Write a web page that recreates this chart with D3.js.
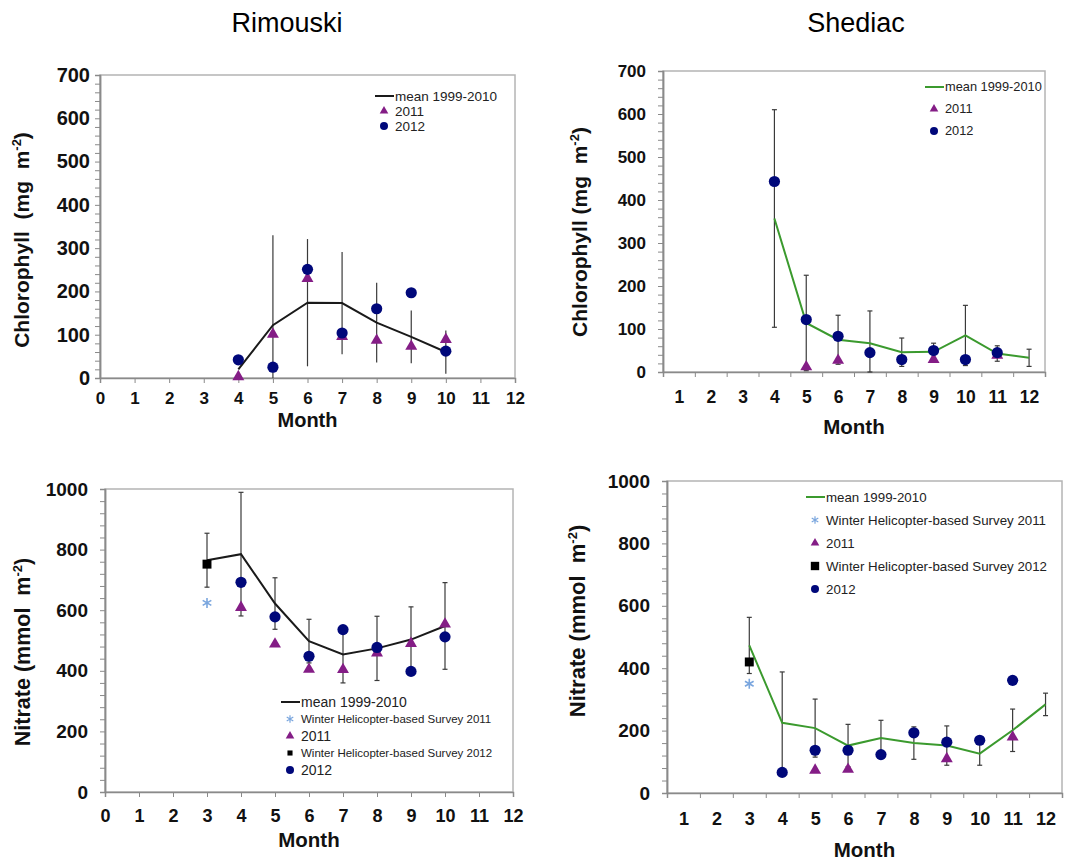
<!DOCTYPE html>
<html>
<head>
<meta charset="utf-8">
<script src="https://cdn.jsdelivr.net/npm/d3@7"></script>
<style>
  body { margin: 0; background: #fff; }
  text { font-family: "Liberation Sans", Arial, sans-serif; }
</style>
</head>
<body>
<svg id="chart" width="1077" height="863"></svg>
<script>
// ---- data ----
var siteNames = ["Rimouski", "Shediac"];
var monthTicksRim = [0, 1, 2, 3, 4, 5, 6, 7, 8, 9, 10, 11, 12];
var monthTicksShd = [1, 2, 3, 4, 5, 6, 7, 8, 9, 10, 11, 12];

// Rimouski chlorophyll (mg m-2)
var rimChlMonths = [4, 5, 6, 7, 8, 9, 10];
var rimChlMean = [20, 122, 174, 173, 128, 95, 60];
var rimChlSd = [0, 208, 147, 118, 92, 61, 50];
var rimChl2011 = [3, 101, 230, 96, 87, 73, 89];
var rimChl2012 = [42, 25, 251, 104, 160, 197, 62];

// Shediac chlorophyll (mg m-2)
var shdChlMonths = [4, 5, 6, 7, 8, 9, 10, 11, 12];
var shdChlMean = [357, 114, 75, 67, 46, 47, 85, 43, 33];
var shdChlSd = [253, 111, 57, 75, 33, 20, 70, 18, 20];
var shdChl2011Months = [5, 6, 9, 11];
var shdChl2011 = [12, 27, 29, 39];
var shdChl2012Months = [4, 5, 6, 7, 8, 9, 10, 11];
var shdChl2012 = [443, 122, 83, 45, 29, 50, 29, 45];

// Rimouski nitrate (mmol m-2)
var rimNitMonths = [3, 4, 5, 6, 7, 8, 9, 10];
var rimNitMean = [765, 785, 622, 498, 454, 474, 503, 548];
var rimNitSd = [89, 204, 85, 72, 94, 106, 108, 143];
var rimNitWinter2011 = [624];
var rimNitWinter2012 = [752];
var rimNitYearMonths = [4, 5, 6, 7, 8, 9, 10];
var rimNit2011 = [609, 488, 405, 404, 459, 490, 554];
var rimNit2012 = [692, 578, 448, 536, 477, 398, 512];

// Shediac nitrate (mmol m-2)
var shdNitMonths = [3, 4, 5, 6, 7, 8, 9, 10, 11, 12];
var shdNitMean = [473, 225, 208, 152, 176, 160, 152, 126, 201, 284];
var shdNitSd = [90, 163, 93, 68, 57, 52, 63, 37, 68, 36];
var shdNitWinter2011 = [350];
var shdNitWinter2012 = [420];
var shdNit2011Months = [5, 6, 9, 11];
var shdNit2011 = [73, 76, 110, 179];
var shdNit2012Months = [4, 5, 6, 7, 8, 9, 10, 11];
var shdNit2012 = [66, 137, 137, 123, 193, 163, 169, 361];

var winterMonth = [3];
var chlLegend = ["mean 1999-2010", "2011", "2012"];
var nitLegend = ["mean 1999-2010", "Winter Helicopter-based Survey 2011", "2011",
                 "Winter Helicopter-based Survey 2012", "2012"];

// ---- drawing ----
var svg = d3.select("#chart");
var purple = "#841d86", navy = "#00087a", green = "#3b9a2e", iceBlue = "#7aa6de";

function zip(xs, ys) { return xs.map(function(m, i) { return [m, ys[i]]; }); }

// titles
svg.append("text").attr("x", 287).attr("y", 32).attr("text-anchor", "middle")
  .style("font-size", "27px").text(siteNames[0]);
svg.append("text").attr("x", 856).attr("y", 32).attr("text-anchor", "middle")
  .style("font-size", "27px").text(siteNames[1]);

function styleAxis(a, fs) {
  a.selectAll(".domain").attr("stroke", "#8a8a8a").attr("stroke-width", 1.5);
  a.selectAll(".tick line").attr("stroke", "#8a8a8a");
  a.selectAll("text").attr("fill", "#111").style("font-size", fs + "px")
    .style("font-weight", "bold").style("font-family", "'Liberation Sans', Arial, sans-serif");
}

function drawPanel(p) {
  var g = svg.append("g");
  var x = d3.scaleLinear().domain(p.xDomain).range([p.left, p.right]);
  var y = d3.scaleLinear().domain([0, p.yMax]).range([p.bottom, p.top]);

  // plot frame
  g.append("rect").attr("x", p.left).attr("y", p.top)
    .attr("width", p.right - p.left).attr("height", p.bottom - p.top)
    .attr("fill", "none").attr("stroke", "#b4b4b4").attr("stroke-width", 1.5);

  // y axis: minor ticks, then major labels
  var yMinor = g.append("g").attr("transform", "translate(" + p.left + ",0)")
    .call(d3.axisLeft(y).tickValues(d3.range(0, p.yMax + 1, p.yMinor)).tickSize(5).tickFormat(""));
  var yMajor = g.append("g").attr("transform", "translate(" + p.left + ",0)")
    .call(d3.axisLeft(y).tickValues(d3.range(0, p.yMax + 1, p.yMajor)).tickSize(0)
      .tickPadding(p.yPad).tickFormat(d3.format("d")));
  styleAxis(yMinor, p.yFont);
  styleAxis(yMajor, p.yFont);

  // x axis
  var xTicks, xLabels;
  if (p.band) {
    xTicks = g.append("g").attr("transform", "translate(0," + p.bottom + ")")
      .call(d3.axisBottom(x).tickValues(d3.range(0.5, 13, 1)).tickSize(5).tickFormat(""));
    xLabels = g.append("g").attr("transform", "translate(0," + p.bottom + ")")
      .call(d3.axisBottom(x).tickValues(p.xTickVals).tickSize(0).tickPadding(p.xPad));
  } else {
    xTicks = g.append("g").attr("transform", "translate(0," + p.bottom + ")")
      .call(d3.axisBottom(x).tickValues(p.xTickVals).tickSize(5).tickPadding(p.xPad - 5));
    xLabels = xTicks;
  }
  styleAxis(xTicks, p.xFont);
  styleAxis(xLabels, p.xFont);
  if (p.band) xLabels.select(".domain").remove();

  // axis titles
  g.append("text").attr("x", (p.left + p.right) / 2).attr("y", p.monthY)
    .attr("text-anchor", "middle").style("font-size", p.monthFont + "px").style("font-weight", "bold")
    .attr("fill", "#111").text("Month");
  var yl = g.append("text").attr("transform", "translate(" + p.yLabelX + "," + p.yLabelY + ") rotate(-90)")
    .attr("text-anchor", "middle").style("font-size", p.yLabelFont + "px").style("font-weight", "bold")
    .style("white-space", "pre").attr("fill", "#111");
  yl.append("tspan").text(p.yLabel);
  yl.append("tspan").attr("dy", -8).style("font-size", "13px").text("-2");
  yl.append("tspan").attr("dy", 8).text(")");

  // error bars
  var eb = g.append("g").attr("stroke", "#3a3a3a").attr("stroke-width", 1.2);
  p.months.forEach(function(m, i) {
    if (!p.sd[i]) return;
    var hi = y(p.mean[i] + p.sd[i]), lo = y(Math.max(0, p.mean[i] - p.sd[i]));
    eb.append("line").attr("x1", x(m)).attr("x2", x(m)).attr("y1", hi).attr("y2", lo);
    if (p.cap) {
      eb.append("line").attr("x1", x(m) - p.cap).attr("x2", x(m) + p.cap).attr("y1", hi).attr("y2", hi);
      eb.append("line").attr("x1", x(m) - p.cap).attr("x2", x(m) + p.cap).attr("y1", lo).attr("y2", lo);
    }
  });

  // mean line
  g.append("path").datum(zip(p.months, p.mean))
    .attr("fill", "none").attr("stroke", p.lineColor).attr("stroke-width", 2)
    .attr("d", d3.line().x(function(d) { return x(d[0]); }).y(function(d) { return y(d[1]); }));

  var tri = d3.symbol().type(d3.symbolTriangle).size(62);
  var sq = d3.symbol().type(d3.symbolSquare).size(80);
  var ast = d3.symbol().type(d3.symbolAsterisk).size(70);

  // winter surveys
  if (p.w11) {
    g.selectAll(null).data(zip(winterMonth, p.w11)).enter().append("path")
      .attr("d", ast).attr("fill", "none").attr("stroke", iceBlue).attr("stroke-width", 1.6)
      .attr("transform", function(d) { return "translate(" + x(d[0]) + "," + y(d[1]) + ")"; });
    g.selectAll(null).data(zip(winterMonth, p.w12)).enter().append("path")
      .attr("d", sq).attr("fill", "#000")
      .attr("transform", function(d) { return "translate(" + x(d[0]) + "," + y(d[1]) + ")"; });
  }
  // 2011 triangles
  g.selectAll(null).data(zip(p.m11, p.v11)).enter().append("path")
    .attr("d", tri).attr("fill", purple)
    .attr("transform", function(d) { return "translate(" + x(d[0]) + "," + y(d[1]) + ")"; });
  // 2012 circles
  g.selectAll(null).data(zip(p.m12, p.v12)).enter().append("circle")
    .attr("r", 5.6).attr("fill", navy)
    .attr("cx", function(d) { return x(d[0]); }).attr("cy", function(d) { return y(d[1]); });

  // legend
  var lg = g.append("g");
  var L = p.legend;
  p.legendNames.forEach(function(name, i) {
    var ly = L.y + i * L.dy;
    var kind = p.legendKinds[i];
    if (kind === "line") {
      lg.append("line").attr("x1", L.x - 2).attr("x2", L.x + 17).attr("y1", ly).attr("y2", ly)
        .attr("stroke", p.lineColor).attr("stroke-width", 2);
    } else if (kind === "circ") {
      lg.append("circle").attr("cx", L.x + 7).attr("cy", ly).attr("r", 4).attr("fill", navy);
    } else {
      var s = kind === "tri" ? d3.symbol().type(d3.symbolTriangle).size(32)
            : kind === "sq" ? d3.symbol().type(d3.symbolSquare).size(L.sqSize)
            : d3.symbol().type(d3.symbolAsterisk).size(40);
      lg.append("path").attr("d", s).attr("transform", "translate(" + (L.x + 7) + "," + ly + ")")
        .attr("fill", kind === "tri" ? purple : kind === "sq" ? "#000" : "none")
        .attr("stroke", kind === "ast" ? iceBlue : "none").attr("stroke-width", 1.2);
    }
    var fs = (kind === "ast" || kind === "sq") ? L.smallFont : L.font;
    lg.append("text").attr("x", L.x + 18).attr("y", ly).attr("dy", "0.35em")
      .style("font-size", fs + "px").attr("fill", "#222").text(name);
  });
}

drawPanel({
  left: 100, right: 515, top: 75, bottom: 378, xDomain: [0, 12], band: false,
  xTickVals: monthTicksRim, xPad: 14, xFont: 17, yMax: 700, yMajor: 100, yMinor: 20, yPad: 10, yFont: 20,
  monthY: 427, monthFont: 20, yLabel: "Chlorophyll  (mg  m", yLabelX: 29, yLabelY: 240, yLabelFont: 21,
  months: rimChlMonths, mean: rimChlMean, sd: rimChlSd, cap: 0, lineColor: "#1a1a1a",
  m11: rimChlMonths, v11: rimChl2011, m12: rimChlMonths, v12: rimChl2012,
  legendNames: chlLegend, legendKinds: ["line", "tri", "circ"],
  legend: { x: 377, y: 96, dy: 15, font: 13.5, smallFont: 13.5, sqSize: 30 }
});

drawPanel({
  left: 663, right: 1045, top: 71, bottom: 372, xDomain: [0.5, 12.5], band: true,
  xTickVals: monthTicksShd, xPad: 19, xFont: 17.5, yMax: 700, yMajor: 100, yMinor: 20, yPad: 17, yFont: 17,
  monthY: 434, monthFont: 20.5, yLabel: "Chlorophyll (mg  m", yLabelX: 587, yLabelY: 232, yLabelFont: 21,
  months: shdChlMonths, mean: shdChlMean, sd: shdChlSd, cap: 2.5, lineColor: green,
  m11: shdChl2011Months, v11: shdChl2011, m12: shdChl2012Months, v12: shdChl2012,
  legendNames: chlLegend, legendKinds: ["line", "tri", "circ"],
  legend: { x: 927, y: 87, dy: 22, font: 12.8, smallFont: 12.8, sqSize: 30 }
});

drawPanel({
  left: 105, right: 513, top: 489, bottom: 792, xDomain: [0, 12], band: false,
  xTickVals: monthTicksRim, xPad: 17, xFont: 18, yMax: 1000, yMajor: 200, yMinor: 40, yPad: 17, yFont: 19,
  monthY: 847, monthFont: 20.5, yLabel: "Nitrate (mmol  m", yLabelX: 30, yLabelY: 652, yLabelFont: 21.5,
  months: rimNitMonths, mean: rimNitMean, sd: rimNitSd, cap: 2.5, lineColor: "#1a1a1a",
  w11: rimNitWinter2011, w12: rimNitWinter2012,
  m11: rimNitYearMonths, v11: rimNit2011, m12: rimNitYearMonths, v12: rimNit2012,
  legendNames: nitLegend, legendKinds: ["line", "ast", "tri", "sq", "circ"],
  legend: { x: 283, y: 702, dy: 17, font: 14, smallFont: 11.5, sqSize: 26 }
});

drawPanel({
  left: 667, right: 1062, top: 481, bottom: 793, xDomain: [0.5, 12.5], band: true,
  xTickVals: monthTicksShd, xPad: 19, xFont: 18, yMax: 1000, yMajor: 200, yMinor: 40, yPad: 17, yFont: 19,
  monthY: 857, monthFont: 20.5, yLabel: "Nitrate (mmol  m", yLabelX: 585, yLabelY: 621, yLabelFont: 22,
  months: shdNitMonths, mean: shdNitMean, sd: shdNitSd, cap: 2.5, lineColor: green,
  w11: shdNitWinter2011, w12: shdNitWinter2012,
  m11: shdNit2011Months, v11: shdNit2011, m12: shdNit2012Months, v12: shdNit2012,
  legendNames: nitLegend, legendKinds: ["line", "ast", "tri", "sq", "circ"],
  legend: { x: 808, y: 497, dy: 23, font: 13.3, smallFont: 13.3, sqSize: 70 }
});
</script>
</body>
</html>
